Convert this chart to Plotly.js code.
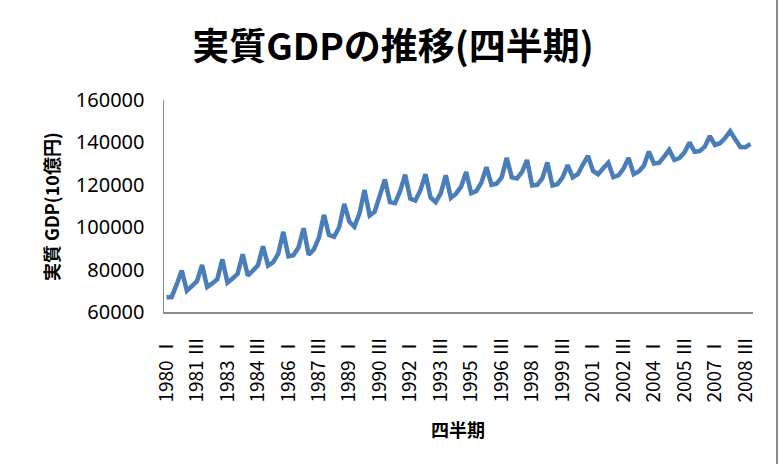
<!DOCTYPE html>
<html>
<head>
<meta charset="utf-8">
<script src="https://cdn.plot.ly/plotly-3.0.1.min.js"></script>
<style>html,body{margin:0;padding:0;background:#fff;}#chart{width:783px;height:464px;}</style>
</head>
<body>
<div id="chart"></div>
<script>
// Years and quarter names (categories)
var years = [1980,1981,1982,1983,1984,1985,1986,1987,1988,1989,1990,1991,1992,1993,1994,
             1995,1996,1997,1998,1999,2000,2001,2002,2003,2004,2005,2006,2007,2008];
var quarterNames = ["Ⅰ","Ⅱ","Ⅲ","Ⅳ"];

var gdp = [
  67000, 67000, 73000, 79600,    // 1980
  70000, 72000, 74500, 82200,    // 1981
  71800, 73500, 75500, 84800,    // 1982
  73800, 75800, 78000, 87200,    // 1983
  77200, 79500, 82000, 91000,    // 1984
  81900, 83500, 87500, 97800,    // 1985
  86300, 86800, 90500, 99500,    // 1986
  87000, 89500, 95000, 105800,   // 1987
  96300, 95500, 100000, 111000,  // 1988
  102600, 100200, 106500, 117500,// 1989
  105500, 107300, 114800, 122500,// 1990
  111800, 111300, 117000, 124800,// 1991
  113500, 112500, 117500, 125000,// 1992
  114000, 111800, 116000, 124500,// 1993
  113800, 115800, 119000, 126000,// 1994
  116000, 117000, 121000, 128300,// 1995
  120000, 120500, 123500, 132700,// 1996
  123500, 123000, 126000, 131700,// 1997
  119700, 120000, 123000, 130500,// 1998
  119700, 120300, 123500, 129300,// 1999
  123500, 125000, 129500, 133600,// 2000
  126500, 125000, 127800, 130400,// 2001
  123600, 124400, 127700, 132700,// 2002
  125000, 126300, 129000, 135700,// 2003
  130000, 130300, 133300, 136500,// 2004
  131700, 132600, 135200, 140000,// 2005
  135600, 135900, 138000, 143000,// 2006
  138800, 139600, 142000, 145300,// 2007
  141500, 137800, 137700, 139300 // 2008
];

var chartTitle = "実質GDPの推移(四半期)";
var yTitle = "実質 GDP(10億円)";
var xTitle = "四半期";

// Build category labels
var categories = [];
years.forEach(function(y){ quarterNames.forEach(function(q){ categories.push(y + " " + q); }); });
categories = categories.slice(0, gdp.length);
var tickCats = categories.filter(function(c, i){ return i % 6 === 0; });

var trace = {
  type: "scatter", mode: "lines",
  x: categories, y: gdp,
  line: {color: "#4A7EBB", width: 4.5, shape: "linear"},
  hoverinfo: "x+y"
};

var L = 164, R = 753, T = 100, B = 312, W = 783, H = 464;
function py(p){ return (B - p) / (B - T); }
function px(p){ return (p - L) / (R - L); }

var layout = {
  width: W, height: H,
  margin: {l: L, r: W - R, t: T, b: H - B, pad: 0},
  paper_bgcolor: "#ffffff", plot_bgcolor: "#ffffff",
  showlegend: false,
  font: {family: "Noto Sans CJK JP", color: "#000"},
  title: {
    text: "<b>" + chartTitle + "</b>",
    font: {family: "Noto Sans CJK JP, sans-serif", size: 37, color: "#000"},
    x: 393 / W, xanchor: "center", xref: "container",
    y: 1 - 47 / H, yanchor: "middle", yref: "container"
  },
  xaxis: {
    type: "category",
    range: [-0.5, gdp.length - 0.5],
    tickmode: "array", tickvals: tickCats, ticktext: tickCats,
    tickangle: -90,
    tickfont: {family: "Noto Sans CJK JP", size: 19, color: "#000"},
    ticks: "", ticklabelstandoff: 16,
    showgrid: false, zeroline: false,
    showline: true, linecolor: "#8C8C8C", linewidth: 1.5,
    fixedrange: true
  },
  yaxis: {
    range: [60000, 160000], dtick: 20000, tick0: 60000,
    tickformat: "d",
    tickfont: {family: "Noto Sans, sans-serif", size: 20, color: "#000"},
    ticks: "", ticklabelstandoff: 14,
    showgrid: false, zeroline: false,
    showline: true, linecolor: "#8C8C8C", linewidth: 1.5,
    fixedrange: true
  },
  annotations: [
    {text: "<b>" + yTitle + "</b>", textangle: -90, showarrow: false,
     xref: "paper", yref: "paper", x: px(51), y: py(207), xanchor: "center", yanchor: "middle",
     font: {family: "Noto Sans CJK JP, sans-serif", size: 18, color: "#000"}},
    {text: "<b>" + xTitle + "</b>", showarrow: false,
     xref: "paper", yref: "paper", x: px(458), y: py(429), xanchor: "center", yanchor: "middle",
     font: {family: "Noto Sans CJK JP, sans-serif", size: 18, color: "#000"}}
  ],
  shapes: [
    {type: "line", xref: "paper", yref: "paper", x0: px(777), x1: px(777), y0: py(0), y1: py(H),
     line: {color: "#8C8C8C", width: 2}}
  ]
};

Plotly.newPlot("chart", [trace], layout, {displayModeBar: false, staticPlot: true});
</script>
</body>
</html>
